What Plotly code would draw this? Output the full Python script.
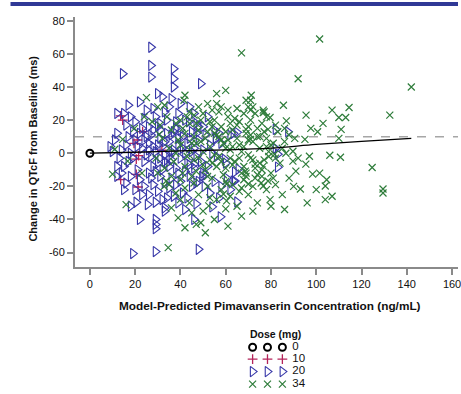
import plotly.graph_objects as go

# ---------------- data ----------------
dose_labels = ["0", "10", "20", "34"]

dose0_pts = [(0.0, 0.0)]

dose10_pts = [(13.6, 22.6), (14.5, 20), (21, 8), (19.5, 6), (23.3, 13), (21.5, -1.5),
              (20.5, -3.6), (20.5, -12.8), (13.6, -16), (21.3, -20.4), (31.8, 1.8)]

dose20_pts = [
    (27, 64), (27, 53), (14.5, 48), (27, 46), (37, 51), (37, 45), (37, 40), (49, 42), (17, 29),
    (30, 36), (32, 34), (36, 33), (40, 30), (44, 28), (22, 31), (35, 28), (28, 27), (12, 24),
    (15, 24), (18, 22), (25, 26), (33, 25), (39, 24), (46, 24), (52, 22), (20, 19), (12, 12),
    (11, 8), (16, 17), (24, 21), (29, 22), (31, 18), (34, 20), (38, 19), (42, 20), (47, 18),
    (50, 16), (55, 14), (57, 12), (62, 10.8), (65, 12.6), (82, 14.4), (87.5, 13), (82, 3),
    (83, -0.6), (83, -8.4), (63.4, 12), (43.7, 19), (55.5, 9),
    (14, 2), (16, 5), (18, 0), (19, -3), (20, 8), (22, 12), (23, 3), (24, -5), (25, 10), (26, 6),
    (27, -2), (28, 14), (29, 1), (30, -6), (31, 9), (32, 4), (33, -1), (34, 12), (35, 7),
    (36, -4), (37, 2), (38, 15), (39, 5), (40, -3), (41, 10), (42, 0), (43, 6), (44, -7),
    (45, 13), (46, 3), (47, -2), (48, 8), (49, -5), (50, 2), (51, 11), (52, -8), (53, 5),
    (54, 0), (56, -2), (58, 6), (60, -6), (15, -8), (17, 10), (21, -10), (23, 15), (26, -12),
    (28, -8), (30, 16), (32, -10), (34, -6), (36, 11), (38, -9), (40, 14), (42, -11), (44, 9),
    (46, -9), (48, 16), (50, -12), (21, 4), (24, 8), (27, 11), (29, -11), (31, -3), (33, 7),
    (35, -8), (37, 13), (39, -12), (41, 3), (43, -6), (45, 1), (47, 12), (25, -1), (36, 1),
    (31, 14), (26, 16), (19, 13), (17, -5), (13, -3), (10, 1), (12, -8), (9, 4),
    (14, -12), (16, -18), (18, -14), (20, -22), (22, -16), (24, -20), (26, -25), (27, -15),
    (28, -19), (30, -23), (31, -14), (33, -18), (34, -27), (35, -21), (36, -15), (37, -26),
    (38, -19), (39, -30), (40, -17), (41, -24), (43, -27), (44, -14), (45, -20), (47, -30.6),
    (48, -17), (50.6, -20), (51, -13), (54, -32.4), (57, -27), (57.7, -38.4), (60.4, -15),
    (64, -16.8), (64, -11.4), (65, -29.4), (59.5, -3.6), (55.6, 8.4), (20.5, -29.6), (22, -40),
    (25.5, -31), (29, -29.6), (29, -40), (29, -43), (29, -45.6), (33, -33), (33, -35),
    (19, -60.6), (29, -59.4), (48, -58), (23, -25), (32, -28), (42, -34), (18, -32), (15, -22),
    (12, -14), (46, -40), (53, -24), (58, -20), (62, -22), (55, -17), (46, -6.6), (63.4, -16.8),
    (65.6, -9.6), (49.5, -14), (47, -18), (26, 2), (30, 5), (35, -2), (39, 9), (28, 4), (33, -5),
]

dose34_pts = [
    (101.5, 69), (67, 60.6), (92, 45), (142, 40), (132.5, 23), (114.5, 27.6), (107, 26),
    (110, 21.6), (113, 21.6), (95.5, 23), (111, 14.4), (110, 9), (103, 18), (97.6, 15),
    (100.6, 13), (85.5, 29), (86.8, 19.5), (86, 15), (83, 13), (79.6, 21.6), (77, 25), (56, 36),
    (60, 38), (42, 35), (41.6, 32), (52, 30), (56, 30), (69, 32), (25, 33.6), (30, 28), (33, 29),
    (71.3, 35), (71, 32), (70, 28), (76.6, 26), (71, 26), (76.6, 24.6), (69, 14.4), (78.7, 14.4),
    (71, 8.4), (75, 10), (90.5, 9), (95, 8.4), (86.6, 0), (89.7, 1.2), (92, -3), (71, -3),
    (73, -6.6), (97, -1.8), (106, -1.2), (110.7, -2.4), (89.7, -4.8), (91, -10.8), (98.4, -12.6),
    (101.5, -12), (104.6, -16), (68.7, -10.8), (78.7, -16.8), (70, -18.6), (76.6, -19.8),
    (81, -15), (104, -19.8), (93, -21.6), (104, -28), (107, -26), (79.6, -28), (124.7, -8.6),
    (129.5, -21.6), (129.5, -24), (47, -43), (34.6, -57), (16, -31), (53, -27), (60, -33.6),
    (60.4, -28.8), (49, -42), (59, -24.6), (67, -21), (75.7, -18), (73, -15), (52.5, -31.8),
    (60.4, -18.6), (69, -12), (76.6, -7.8), (10, -12.6), (11, 2.4), (14.5, 8.4), (16.7, -4.8),
    (24, 22), (27.5, 19), (23, -12), (33.7, -16.8), (32.8, -20), (29.3, -3), (19.7, 15),
    (30.6, 11.4), (81.6, -0.6), (95.4, -6.6),
    (40, 5), (41, 15), (42, -8), (43, 22), (44, 2), (45, -14), (46, 10), (47, 18), (48, -3),
    (49, 7), (50, 24), (51, -10), (52, 13), (53, 4), (54, -6), (55, 20), (56, 11), (57, -2),
    (58, 16), (59, 6), (60, -9), (61, 22), (62, 2), (63, 14), (64, -5), (65, 9), (66, 19),
    (67, -12), (68, 4), (69, 12), (70, -1), (71, 20), (72, 7), (73, -9), (74, 15), (75, 3),
    (76, 18), (77, -4), (78, 9), (79, 1), (80, -12), (81, 6), (82, 17), (84, -6), (85, 3),
    (88, 11), (42, 12), (44, 18), (46, -4), (48, 14), (50, 1), (52, -14), (54, 16), (56, -8),
    (58, 8), (60, 13), (62, -3), (64, 21), (66, 5), (68, -8), (70, 16), (72, -4), (74, 10),
    (76, -10), (78, 22), (80, 5), (43, -2), (45, 6), (47, -11), (49, 20), (51, 9), (53, -4),
    (55, 12), (57, 25), (59, -13), (61, 8), (63, -7), (65, 17), (67, 1), (69, -14), (71, 11),
    (73, 24), (75, -6), (77, 13), (79, -2), (41, -12), (39, 8), (38, 18), (37, -5), (36, 14),
    (35, 3), (34, 22), (33, -9), (32, 9), (31, 17), (36, -14), (38, 0), (40, 20), (55, -1),
    (58, -5), (62, 18), (66, -3), (70, 8), (74, -13), (78, 4), (82, -3), (86, 7), (50, -7),
    (60, 3), (57, 10), (63, 4), (53, 19), (47, 6), (44, 25), (65, 27), (72, 28), (58, 28),
    (54, 26), (61, 26), (48, 28), (68, 24), (46, 23),
    (30, -12), (35, -19), (38, -24), (40, -16), (42, -21), (44, -30), (46, -18), (48, -25),
    (50, -35), (52, -20), (54, -15), (56, -28), (58, -22), (60, -17), (62, -26), (63, -19),
    (65, -32), (66, -23), (68, -16), (70, -25), (72, -20), (74, -30), (76, -14), (78, -22),
    (82, -19), (85, -25), (88, -15), (90, -20), (40, -28), (45, -36), (55, -40), (61, -44),
    (67, -38), (72, -35), (80, -32), (86, -34), (96, -30), (100, -22), (36, -33), (42, -45),
    (39, -39), (51, -48),
]

fit_x = [0, 20, 40, 60, 80, 100, 120, 142]
fit_y = [0, 0.6, 1.4, 2.0, 3.1, 5.3, 7.1, 9.0]

ref_level = 10

x_ticks = [0, 20, 40, 60, 80, 100, 120, 140, 160]
y_ticks = [-60, -40, -20, 0, 20, 40, 60, 80]
y_tick_text = ["-60", "-40", "-20", "0", "20", "40", "60", "80"]

# ---------------- styles ----------------
FONT = "Arial, 'Liberation Sans', sans-serif"
W, H = 461, 394
L, R, T, B = 75, 0, 0, 0
BLACK = "#000000"
RED = "#b4235a"
BLUE = "#3737a8"
GREEN = "#2f7d3b"
AXIS = "#8a8a8a"

styles = {
    "0": dict(symbol="circle-open", size=7, color=BLACK, line=dict(width=2, color=BLACK)),
    "10": dict(symbol="cross-thin-open", size=7, color=RED, line=dict(width=1.3, color=RED)),
    "20": dict(symbol="triangle-right-open", size=9, color=BLUE, line=dict(width=1.1, color=BLUE)),
    "34": dict(symbol="x-thin-open", size=7, color=GREEN, line=dict(width=1.2, color=GREEN)),
}

fig = go.Figure()

for lab, pts in zip(dose_labels, [dose0_pts, dose10_pts, dose20_pts, dose34_pts]):
    xs, ys = zip(*pts)
    fig.add_trace(go.Scatter(x=list(xs), y=list(ys), mode="markers", marker=styles[lab],
                             showlegend=False, hoverinfo="x+y", cliponaxis=False))

fig.add_trace(go.Scatter(x=fit_x, y=fit_y, mode="lines", line=dict(color=BLACK, width=1.3),
                         line_shape="spline", showlegend=False))

# reference dashed line
fig.add_shape(type="line", xref="paper", yref="y", x0=0, x1=1, y0=ref_level, y1=ref_level,
              line=dict(color="#a6a6a6", width=1.5, dash="dash"), layer="below")

# top banner
fig.add_shape(type="rect", xref="paper", yref="paper", x0=(10 - L) / (W - L - R), x1=1,
              y0=1 - 4 / H, y1=1, fillcolor="#303996", line=dict(width=0))

# main plot pixel geometry
plot_top, plot_bot = 15, 266
dom_y = [1 - plot_bot / H, 1 - plot_top / H]

# ---- custom legend on an auxiliary pixel axis ----
leg_top = 322
mark_x = [254, 269, 284]
row_y = [347, 359, 371.5, 384]
label_x = 294
for lab, yy in zip(dose_labels, row_y):
    fig.add_trace(go.Scatter(x=mark_x, y=[yy] * 3, mode="markers", marker=styles[lab],
                             xaxis="x2", yaxis="y2", showlegend=False, hoverinfo="skip",
                             cliponaxis=False))
fig.add_trace(go.Scatter(x=[label_x] * 4, y=row_y, mode="text", text=dose_labels,
                         textposition="middle right", textfont=dict(size=11.5, color="#111"),
                         xaxis="x2", yaxis="y2", showlegend=False, hoverinfo="skip",
                         cliponaxis=False))
fig.add_annotation(x=277, y=334, xref="x2", yref="y2", text="<b>Dose (mg)</b>",
                   showarrow=False, xanchor="center", yanchor="middle",
                   font=dict(size=10.5, color="#111"))

# axis titles
fig.add_annotation(x=(272 - L) / (W - L - R), y=1 - 305.5 / H, xref="paper", yref="paper",
                   text="<b>Model-Predicted Pimavanserin Concentration (ng/mL)</b>",
                   showarrow=False, xanchor="center", yanchor="middle",
                   font=dict(size=11.8, color="#111"))
fig.add_annotation(x=(33 - L) / (W - L - R), y=1 - 147 / H, xref="paper", yref="paper",
                   text="<b>Change in QTcF from Baseline (ms)</b>", textangle=-90,
                   showarrow=False, xanchor="center", yanchor="middle",
                   font=dict(size=11, color="#111"))

x0_px = 90.0
px_per_x = (455.0 - 90.0) / 160.0
x_range = [(L - x0_px) / px_per_x, (W - R - x0_px) / px_per_x]
y0_px = 152.0
px_per_y = (252.0 - 19.0) / 140.0
y_range = [(y0_px - plot_bot) / px_per_y, (y0_px - plot_top) / px_per_y]

fig.update_layout(
    width=W, height=H,
    margin=dict(l=L, r=R, t=T, b=B, pad=0),
    paper_bgcolor="white", plot_bgcolor="white",
    font=dict(family=FONT, size=11, color="#111"),
    xaxis=dict(range=x_range, domain=[0, 1], tickmode="array", tickvals=x_ticks,
               showgrid=False, zeroline=False, showline=True, linecolor=AXIS, linewidth=2,
               ticks="outside", ticklen=6, tickwidth=1.5, tickcolor=AXIS,
               ticklabeloverflow="allow",
               tickfont=dict(size=11, color="#111"), fixedrange=True, anchor="y"),
    yaxis=dict(range=y_range, domain=dom_y, tickmode="array", tickvals=y_ticks,
               ticktext=y_tick_text, showgrid=False, zeroline=False, showline=True,
               linecolor=AXIS, linewidth=2, ticks="outside", ticklen=6, tickwidth=1.5,
               tickcolor=AXIS, tickfont=dict(size=11, color="#111"), fixedrange=True,
               anchor="x"),
    xaxis2=dict(range=[L, W - R], domain=[0, 1], visible=False, fixedrange=True, anchor="y2"),
    yaxis2=dict(range=[H, leg_top], domain=[0, 1 - leg_top / H], visible=False,
                fixedrange=True, anchor="x2"),
    showlegend=False,
)

fig.write_html("out.html", config={"displayModeBar": False},
               post_script="document.body.style.margin='0';document.body.style.overflow='hidden';")
